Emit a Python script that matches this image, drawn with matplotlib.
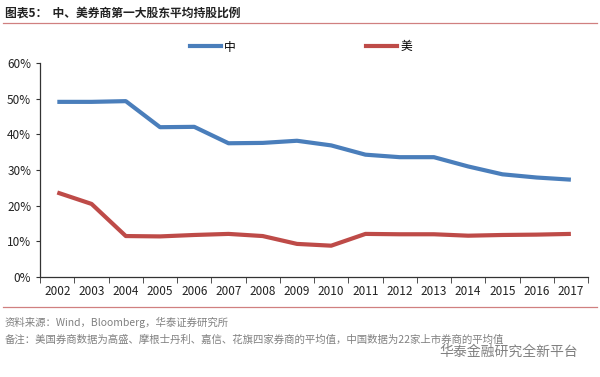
import matplotlib.pyplot as plt
import numpy as np
from matplotlib.lines import Line2D

plt.rcParams['font.family'] = ['Noto Sans CJK SC', 'DejaVu Sans']

years = ['2002', '2003', '2004', '2005', '2006', '2007', '2008', '2009',
         '2010', '2011', '2012', '2013', '2014', '2015', '2016', '2017']
china = [49.1, 49.1, 49.3, 42.0, 42.1, 37.5, 37.6, 38.2,
         36.9, 34.3, 33.6, 33.6, 31.0, 28.8, 27.9, 27.3]
usa = [23.7, 20.5, 11.5, 11.4, 11.8, 12.1, 11.5, 9.3,
       8.8, 12.1, 12.0, 12.0, 11.6, 11.8, 11.9, 12.1]

title = '图表5：  中、美券商第一大股东平均持股比例'
source = '资料来源：Wind，Bloomberg，华泰证券研究所'
note = '备注：美国券商数据为高盛、摩根士丹利、嘉信、花旗四家券商的平均值，中国数据为22家上市券商的平均值'

blue = '#4a7ebb'
red = '#be4b48'

fig = plt.figure(figsize=(6, 3.77), dpi=100)
ax = fig.add_axes([0.067, 0.265, 0.913, 0.568])

x = np.arange(len(years))
ax.plot(x, np.array(china) / 100, color=blue, lw=3, solid_capstyle='butt')
ax.plot(x, np.array(usa) / 100, color=red, lw=3, solid_capstyle='butt')

ax.set_xlim(-0.5, len(years) - 0.5)
ax.set_ylim(0, 0.6)
ax.set_yticks(np.arange(0, 0.61, 0.1))
ax.set_yticklabels([f'{int(round(v * 100))}%' for v in np.arange(0, 0.61, 0.1)])
ax.set_xticks(x)
ax.set_xticklabels(years)
ax.set_xticks(np.arange(-0.5, len(years)), minor=True)
ax.tick_params(axis='x', which='major', length=0, pad=6, labelsize=8.5, colors='#222222')
ax.tick_params(axis='x', which='minor', length=4, direction='out', color='#333333')
ax.tick_params(axis='y', length=3, direction='out', labelsize=8.5, colors='#222222', color='#333333')
for s in ['top', 'right']:
    ax.spines[s].set_visible(False)
for s in ['left', 'bottom']:
    ax.spines[s].set_color('#333333')
    ax.spines[s].set_linewidth(0.9)

handles = [Line2D([], [], color=blue, lw=3), Line2D([], [], color=red, lw=3)]
ax.legend(handles, ['中', '美'], ncol=2, loc='lower center', bbox_to_anchor=(0.476, 1.0),
          frameon=False, columnspacing=11, handlelength=2.6, handletextpad=0.3,
          fontsize=8.5, borderaxespad=0.4)

# header and footer
fig.text(0.008, 0.965, title, fontsize=8.5, fontweight='bold', color='#222222', va='center')
fig.add_artist(Line2D([0.005, 0.995], [0.94, 0.94], color='#d08080', lw=0.9))
fig.add_artist(Line2D([0.005, 0.995], [0.186, 0.186], color='#d08080', lw=0.9))
fig.text(0.008, 0.145, source, fontsize=7.5, color='#808080', va='center')
fig.text(0.008, 0.1, note, fontsize=7.5, color='#808080', va='center')
# watermark sits over the end of the note, as in the source image
fig.text(0.963, 0.066, '华泰金融研究全新平台', fontsize=10, color='#6a6a6a', ha='right',
         va='center', alpha=0.85)

fig.savefig('out.png', dpi=100)
